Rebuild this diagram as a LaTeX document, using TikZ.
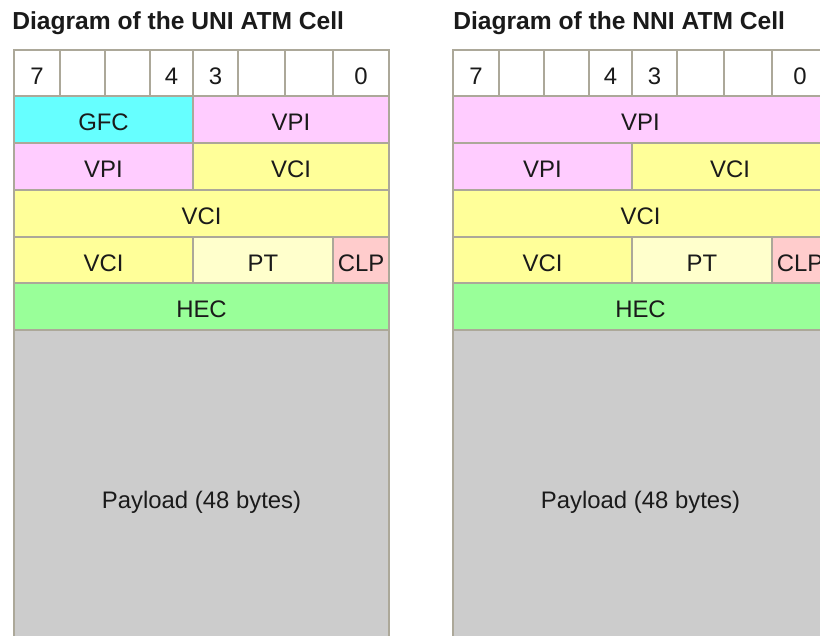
\documentclass[tikz,border=0pt]{standalone}
\usepackage{fontspec}
\setmainfont{Liberation Sans}
\usetikzlibrary{positioning}

\definecolor{rule}{HTML}{ACA899}
\definecolor{ink}{HTML}{1A1A1A}
\definecolor{gfccol}{HTML}{66FFFF}
\definecolor{vpicol}{HTML}{FFCCFF}
\definecolor{vcicol}{HTML}{FFFF99}
\definecolor{ptcol}{HTML}{FFFFCC}
\definecolor{clpcol}{HTML}{FFCCCC}
\definecolor{heccol}{HTML}{99FF99}
\definecolor{paycol}{HTML}{CCCCCC}

\newcommand\cellfont{\fontsize{17}{20}\selectfont}
\newcommand\headfont{\fontsize{17.5}{21}\selectfont\bfseries}

\begin{document}
\begin{tikzpicture}[x=0.025cm,y=-0.025cm,
  cell/.style={draw=rule, line width=0.04cm, inner sep=0pt, outer sep=0pt,
    text=ink, text height=0.55cm, text depth=0pt, font=\cellfont},
  cellsize/.style 2 args={minimum width=#1*0.025cm, minimum height=#2*0.025cm},
  bit/.style={cell, fill=white},
  heading/.style={anchor=base west, inner sep=0pt, text=ink, font=\headfont}]

  \useasboundingbox (0,0) rectangle (820,636);
  \fill[white] (0,0) rectangle (820,636);
  \clip (0,0) rectangle (820,636);

  % UNI cell
  \node[heading] (utitle) at (12,30) {Diagram of the UNI ATM Cell};
  \node[bit, cellsize={46}{46}] (ub7) at (37,73) {7};
  \node[bit, cellsize={45}{46}] (ub6) at (82.5,73) {};
  \node[bit, cellsize={45}{46}] (ub5) at (127.5,73) {};
  \node[bit, cellsize={43}{46}] (ub4) at (171.5,73) {4};
  \node[bit, cellsize={45}{46}] (ub3) at (215.5,73) {3};
  \node[bit, cellsize={47}{46}] (ub2) at (261.5,73) {};
  \node[bit, cellsize={48}{46}] (ub1) at (309,73) {};
  \node[bit, cellsize={56}{46}] (ub0) at (361,73) {0};
  \node[cell, fill=gfccol, cellsize={179}{47}] (ugfc) at (103.5,119.5) {GFC};
  \node[cell, fill=vpicol, cellsize={196}{47}] (uvpia) at (291,119.5) {VPI};
  \node[cell, fill=vpicol, cellsize={179}{47}] (uvpib) at (103.5,166.5) {VPI};
  \node[cell, fill=vcicol, cellsize={196}{47}] (uvcia) at (291,166.5) {VCI};
  \node[cell, fill=vcicol, cellsize={375}{47}] (uvcib) at (201.5,213.5) {VCI};
  \node[cell, fill=vcicol, cellsize={179}{46}] (uvcic) at (103.5,260) {VCI};
  \node[cell, fill=ptcol, cellsize={140}{46}] (upt) at (263,260) {PT};
  \node[cell, fill=clpcol, cellsize={56}{46}] (uclp) at (361,260) {CLP};
  \node[cell, fill=heccol, cellsize={375}{47}] (uhec) at (201.5,306.5) {HEC};
  \node[cell, fill=paycol, cellsize={375}{334}] (upay) at (201.5,497) {Payload (48 bytes)};

  % NNI cell
  \node[heading] (ntitle) at (453,30) {Diagram of the NNI ATM Cell};
  \node[bit, cellsize={46}{46}] (nb7) at (476,73) {7};
  \node[bit, cellsize={45}{46}] (nb6) at (521.5,73) {};
  \node[bit, cellsize={45}{46}] (nb5) at (566.5,73) {};
  \node[bit, cellsize={43}{46}] (nb4) at (610.5,73) {4};
  \node[bit, cellsize={45}{46}] (nb3) at (654.5,73) {3};
  \node[bit, cellsize={47}{46}] (nb2) at (700.5,73) {};
  \node[bit, cellsize={48}{46}] (nb1) at (748,73) {};
  \node[bit, cellsize={56}{46}] (nb0) at (800,73) {0};
  \node[cell, fill=vpicol, cellsize={375}{47}] (nvpia) at (640.5,119.5) {VPI};
  \node[cell, fill=vpicol, cellsize={179}{47}] (nvpib) at (542.5,166.5) {VPI};
  \node[cell, fill=vcicol, cellsize={196}{47}] (nvcia) at (730,166.5) {VCI};
  \node[cell, fill=vcicol, cellsize={375}{47}] (nvcib) at (640.5,213.5) {VCI};
  \node[cell, fill=vcicol, cellsize={179}{46}] (nvcic) at (542.5,260) {VCI};
  \node[cell, fill=ptcol, cellsize={140}{46}] (npt) at (702,260) {PT};
  \node[cell, fill=clpcol, cellsize={56}{46}] (nclp) at (800,260) {CLP};
  \node[cell, fill=heccol, cellsize={375}{47}] (nhec) at (640.5,306.5) {HEC};
  \node[cell, fill=paycol, cellsize={375}{334}] (npay) at (640.5,497) {Payload (48 bytes)};
\end{tikzpicture}
\end{document}
